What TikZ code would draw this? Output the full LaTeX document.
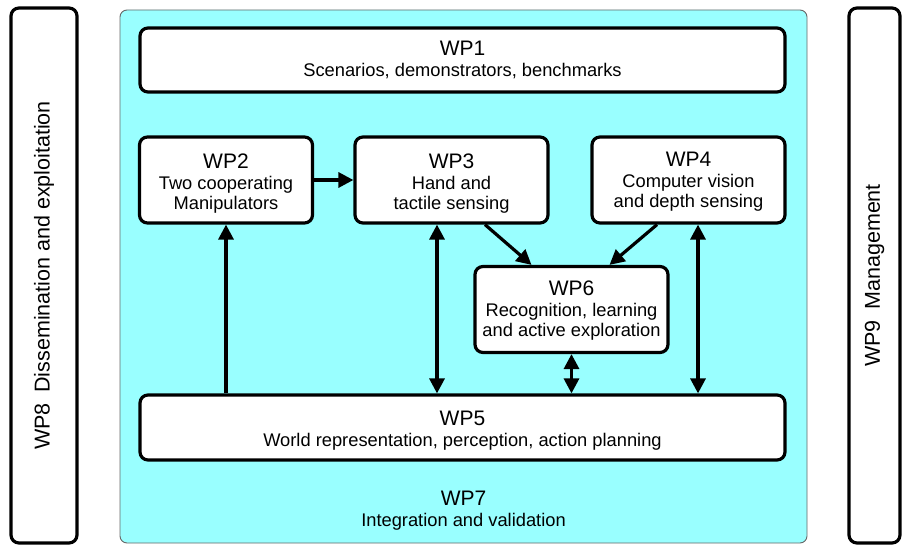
\documentclass[tikz,border=0pt]{standalone}
\usepackage{fontspec}
\setmainfont{Liberation Sans}
\usetikzlibrary{arrows.meta}
\definecolor{wpcyan}{RGB}{153,255,255}
\newcommand\wptitle{\fontsize{21}{24}\selectfont}
\newcommand\wpsub{\fontsize{18.3}{20}\selectfont}
\newcommand\wpside{\fontsize{21.5}{24}\selectfont}
\begin{document}
\begin{tikzpicture}[x=1pt,y=-1pt,
  wpbox/.style={draw=black, line width=3.2pt, rounded corners=8pt, fill=white, inner sep=0pt, align=center, font=\wpsub, text depth=0pt},
  sidebox/.style={draw=black, line width=3.2pt, rounded corners=8pt, fill=white, inner sep=0pt, font=\wpside},
  outerbox/.style={draw=black!60, line width=0.9pt, rounded corners=7pt, fill=wpcyan, inner sep=0pt, align=center, font=\wpsub, text depth=0pt},
  arr/.style={line width=3.2pt, -{Triangle[length=15pt,width=15pt]}},
  darr/.style={line width=3.2pt, {Triangle[length=15pt,width=15pt]}-{Triangle[length=15pt,width=15pt]}}]
\useasboundingbox (0,0) rectangle (902,545);

\node[sidebox, rotate=90, minimum width=535pt, minimum height=66pt] (wp8) at (44,275.5) {WP8\hspace{0.5em}Dissemination and exploitation};
\node[sidebox, rotate=90, minimum width=535pt, minimum height=51pt] (wp9) at (874.5,275.5) {WP9\hspace{0.5em}Management};

\node[outerbox, minimum width=687pt, minimum height=533pt, text height=500pt] (wp7) at (463.5,276.5) {{\wptitle WP7}\\[1.5pt]Integration and validation};

\node[wpbox, minimum width=645pt, minimum height=64pt, text height=34pt] (wp1) at (462.5,60) {{\wptitle WP1}\\[1.5pt]Scenarios, demonstrators, benchmarks};
\node[wpbox, minimum width=173pt, minimum height=86pt, text height=60pt] (wp2) at (226,180) {{\wptitle WP2}\\[1.5pt]Two cooperating\\Manipulators};
\node[wpbox, minimum width=193pt, minimum height=86pt, text height=60pt] (wp3) at (451.5,180) {{\wptitle WP3}\\[1.5pt]Hand and\\tactile sensing};
\node[wpbox, minimum width=193pt, minimum height=86pt, text height=56pt] (wp4) at (688.5,180) {{\wptitle WP4}\\[1.5pt]Computer vision\\and depth sensing};
\node[wpbox, minimum width=193pt, minimum height=86pt, text height=54pt] (wp6) at (571.5,309.5) {{\wptitle WP6}\\[1.5pt]Recognition, learning\\and active exploration};
\node[wpbox, minimum width=645pt, minimum height=65pt, text height=38pt] (wp5) at (462.5,427.5) {{\wptitle WP5}\\[1.5pt]World representation, perception, action planning};

\draw[arr] (wp2.east) -- (wp3.west);
\draw[arr] (wp5.north -| wp2.south) -- (wp2.south);
\draw[darr] ([xshift=-14.5pt]wp3.south) -- ([xshift=-14.5pt]wp3.south |- wp5.north);
\draw[arr] ([xshift=33.5pt]wp3.south) -- ([xshift=-40pt]wp6.north);
\draw[arr] ([xshift=-31.5pt]wp4.south) -- ([xshift=38pt]wp6.north);
\draw[darr] (wp6.south) -- (wp6.south |- wp5.north);
\draw[darr] ([xshift=9.5pt]wp4.south) -- ([xshift=9.5pt]wp4.south |- wp5.north);
\end{tikzpicture}
\end{document}
